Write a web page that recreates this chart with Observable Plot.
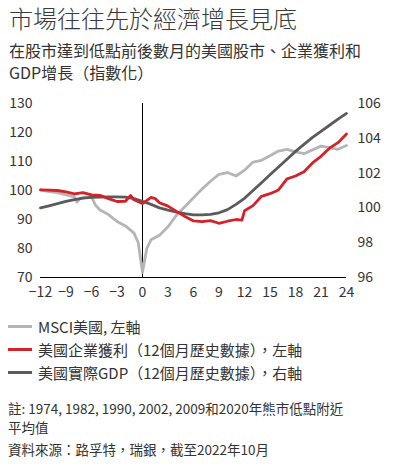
<!DOCTYPE html>
<html>
<head>
<meta charset="utf-8">
<script src="https://cdn.jsdelivr.net/npm/d3@7"></script>
<script src="https://cdn.jsdelivr.net/npm/@observablehq/plot@0.6"></script>
<style>
  body { margin: 0; width: 411px; background: #fff; color: #333; font-family: "Noto Sans CJK TC", sans-serif; }
  #title { padding: 3px 0 0 9px; font-size: 24px; line-height: 30px; color: #3a3a3a; font-weight: 300; }
  #sub { margin-top: 6px; padding-left: 9px; font-size: 16px; line-height: 22px; }
  #chart { margin-top: 7px; height: 220px; }
  #legend { margin-top: 5px; }
  .item { display: flex; align-items: center; height: 23px; font-size: 15px; padding-left: 8px; }
  .sw { width: 24px; height: 3px; margin-right: 6px; }
  #notes { margin-top: 15px; padding-left: 8px; font-size: 13.5px; line-height: 18.5px; }
  #src { margin-top: 4px; }
</style>
</head>
<body>
<div id="title">市場往往先於經濟增長見底</div>
<div id="sub">在股市達到低點前後數月的美國股市、企業獲利和<br>GDP增長（指數化）</div>
<div id="chart"></div>
<div id="legend"></div>
<div id="notes">
  <div>註: 1974, 1982, 1990, 2002, 2009和2020年熊市低點附近<br>平均值</div>
  <div id="src">資料來源：路孚特，瑞銀，截至2022年10月</div>
</div>
<script>
// months around the market low (0 = low)
const msciMonths = [-12,-11,-10,-9,-8,-7.7,-7.3,-6,-5.5,-5,-4,-3,-2,-1,-0.5,0,0.5,1,2,3,4,5,6,7,8,9,10,11,12,13,14,15,16,17,18,19,20,21,22,23,24];
const msciValues = [100.2,99.6,99.3,98.5,97.8,96.0,97.4,97.8,94.8,93.3,91.7,89.3,87.8,85.3,82.0,71.8,80.0,83.0,84.6,87.5,91.5,94.5,97.5,100.5,103.2,105.6,106.2,105.0,107.0,109.8,110.4,112.0,113.6,114.2,113.3,112.7,114.0,115.3,114.8,114.2,115.5];

const profitMonths = [-12,-11,-10,-9,-8,-7,-6,-5,-4,-3,-2,-1.4,-1,0,1,1.5,2,3,4,5,6,7,8,9,10,11,11.7,12,13,14,15,16,17,18,19,20,21,22,23,24];
const profitValues = [100.2,100.1,100.0,99.5,98.8,99.3,98.5,98.3,97.2,96.2,96.3,98.3,96.8,95.5,97.6,97.2,95.8,94.6,92.8,91.0,89.5,89.3,89.6,88.7,89.4,90.0,89.8,93.0,94.8,98.0,98.9,100.2,104.0,105.0,106.5,109.5,111.8,114.6,116.5,119.5];

const gdpMonths = [-12,-11,-10,-9,-8,-7,-6,-5,-4,-3,-2,-1,0,1,2,3,4,5,6,7,8,9,10,11,12,13,14,15,16,17,18,19,20,21,22,23,24];
const gdpValues = [100.0,100.12,100.25,100.37,100.48,100.56,100.6,100.62,100.63,100.63,100.62,100.53,100.38,100.2,100.0,99.87,99.76,99.67,99.6,99.6,99.63,99.72,99.9,100.2,100.55,101.0,101.45,101.9,102.35,102.8,103.25,103.65,104.05,104.4,104.75,105.1,105.43];

const xTicks = [-12,-9,-6,-3,0,3,6,9,12,15,18,21,24];
const leftTicks = [70,80,90,100,110,120,130];
const rightTicks = [96,98,100,102,104,106];

const seriesNames = ["MSCI美國, 左軸", "美國企業獲利（12個月歷史數據），左軸", "美國實際GDP（12個月歷史數據），右軸"];
const seriesColors = ["#b5b5b5", "#d3222a", "#5b5b5b"];

// right axis (96–106) shares the left scale (70–130)
const toLeft = r => 70 + (r - 96) * 6;
const toRight = l => 96 + (l - 70) / 6;

const msci = msciMonths.map((m, i) => ({m, v: msciValues[i]}));
const profit = profitMonths.map((m, i) => ({m, v: profitValues[i]}));
const gdp = gdpMonths.map((m, i) => ({m, v: toLeft(gdpValues[i])}));

let chart = Plot.plot({
  width: 411,
  height: 220,
  marginTop: 13,
  marginBottom: 33,
  marginLeft: 40,
  marginRight: 65,
  x: {domain: [-12, 24]},
  y: {domain: [70, 130]},
  style: {fontFamily: "'Noto Sans CJK TC', sans-serif", fontSize: "14px", color: "#333"},
  marks: [
    Plot.axisX(xTicks, {tickSize: 0, tickPadding: 10, label: null}),
    Plot.axisY(leftTicks, {tickSize: 0, tickPadding: 8, label: null}),
    Plot.axisY(rightTicks.map(toLeft), {anchor: "right", tickSize: 0, tickPadding: 11, label: null,
      tickFormat: d => String(Math.round(toRight(d)))}),
    Plot.ruleX([0], {stroke: "#000", strokeWidth: 1}),
    Plot.ruleY([70], {stroke: "#000", strokeWidth: 1}),
    Plot.line(msci, {x: "m", y: "v", stroke: seriesColors[0], strokeWidth: 2.8}),
    Plot.line(gdp, {x: "m", y: "v", stroke: seriesColors[2], strokeWidth: 2.8}),
    Plot.line(profit, {x: "m", y: "v", stroke: seriesColors[1], strokeWidth: 2.8})
  ]
});
d3.select("#chart").append(() => chart);

const legend = d3.select("#legend");
seriesNames.forEach((name, i) => {
  const row = legend.append("div").attr("class", "item");
  row.append("div").attr("class", "sw").style("background", seriesColors[i]);
  row.append("span").text(name);
});
</script>
</body>
</html>
